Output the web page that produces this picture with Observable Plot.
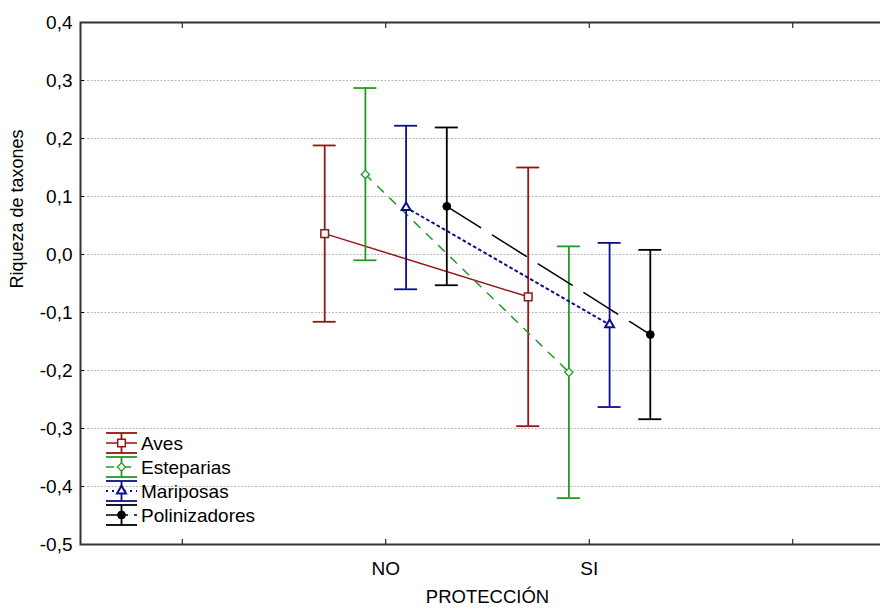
<!DOCTYPE html>
<html>
<head>
<meta charset="utf-8">
<script src="https://cdn.jsdelivr.net/npm/d3@7"></script>
<script src="https://cdn.jsdelivr.net/npm/@observablehq/plot@0.6"></script>
<style>
  html, body { margin: 0; padding: 0; background: #fff; overflow: hidden; }
  #chart { width: 880px; height: 608px; overflow: hidden; }
  #chart svg { max-width: none !important; }
</style>
</head>
<body>
<div id="chart"></div>
<script>
// Taxon groups and protection levels
const groups = ["Aves", "Esteparias", "Mariposas", "Polinizadores"];
const levels = ["NO", "SI"];

// Means and interval limits per group, unprotected (NO) and protected (SI)
const meanNO = [0.036, 0.138, 0.081, 0.083];
const lowNO  = [-0.116, -0.010, -0.060, -0.053];
const highNO = [0.188, 0.287, 0.222, 0.219];
const meanSI = [-0.073, -0.203, -0.121, -0.138];
const lowSI  = [-0.296, -0.420, -0.263, -0.284];
const highSI = [0.150, 0.014, 0.020, 0.008];

// Axis ticks
const xTickLabels = ["", "NO", "SI", ""];
const yTicks = [-0.5, -0.4, -0.3, -0.2, -0.1, 0.0, 0.1, 0.2, 0.3, 0.4];

// Appearance of each group
const look = {
  Aves:          {color: "#961515", dash: null,    symbol: "square",   r: 4.3, fill: "white", sw: 1.5},
  Esteparias:    {color: "#239a23", dash: "8,9",   symbol: "diamond2", r: 3.7, fill: "white", sw: 1.3},
  Mariposas:     {color: "#0d0d8c", dash: "2,4",   symbol: "triangle", r: 3.3, fill: "white", sw: 2},
  Polinizadores: {color: "#000000", dash: "40,14", symbol: "circle",   r: 3.9, fill: "black", sw: 1}
};
const lineWidth = {Aves: 1.5, Esteparias: 1.5, Mariposas: 2, Polinizadores: 1.5};

// Rows: one per group and level, dodged horizontally around the level position
const rows = [];
groups.forEach((g, i) => {
  const off = (i - 1.5) * 0.2;
  rows.push({group: g, level: "NO", pos: 1 + off, mean: meanNO[i], lo: lowNO[i], hi: highNO[i]});
  rows.push({group: g, level: "SI", pos: 2 + off, mean: meanSI[i], lo: lowSI[i], hi: highSI[i]});
});

const capHalf = 0.0565;
const fmt = d => d.toFixed(1).replace(".", ",");
const gridValues = yTicks.slice(1, -1);

const groupMarks = groups.flatMap(g => {
  const s = look[g];
  const data = rows.filter(d => d.group === g);
  return [
    Plot.line(data, {x: "pos", y: "mean", stroke: s.color, strokeWidth: lineWidth[g], strokeDasharray: s.dash}),
    Plot.ruleX(data, {x: "pos", y1: "lo", y2: "hi", stroke: s.color, strokeWidth: 1.8}),
    Plot.ruleY(data, {y: "hi", x1: d => d.pos - capHalf, x2: d => d.pos + capHalf, stroke: s.color, strokeWidth: 1.8}),
    Plot.ruleY(data, {y: "lo", x1: d => d.pos - capHalf, x2: d => d.pos + capHalf, stroke: s.color, strokeWidth: 1.8}),
    Plot.dot(data, {x: "pos", y: "mean", symbol: s.symbol, r: s.r, stroke: s.color, fill: s.fill, strokeWidth: s.sw})
  ];
});

const svg = Plot.plot({
  width: 894,
  height: 608,
  marginLeft: 80,
  marginRight: 0,
  marginTop: 22,
  marginBottom: 64,
  style: {fontFamily: "'Liberation Sans', Arial, sans-serif", fontSize: "19px", color: "#000", background: "#fff"},
  x: {domain: [-0.5, 3.5]},
  y: {domain: [-0.5, 0.4]},
  marks: [
    Plot.gridY(gridValues, {stroke: "#b8b8b8", strokeOpacity: 1, strokeDasharray: "2,1.5"}),
    ...groupMarks,
    Plot.axisX([0, 1, 2, 3], {anchor: "bottom", tickSize: -5, tickFormat: () => "", label: null}),
    Plot.axisX([0, 1, 2, 3], {anchor: "top", tickSize: -5, tickFormat: () => "", label: null}),
    Plot.axisX([1, 2], {anchor: "bottom", tickSize: 0, tickPadding: 17, tickFormat: d => xTickLabels[d], label: null}),
    Plot.axisY(gridValues, {anchor: "left", tickSize: -4, tickFormat: () => "", label: null}),
    Plot.axisY(yTicks, {anchor: "left", tickSize: 0, tickPadding: 8, tickFormat: fmt, label: null}),
    Plot.frame({stroke: "#333", strokeWidth: 2}),
    Plot.text(["Riqueza de taxones"], {frameAnchor: "left", rotate: -90, dx: -63, dy: 5, fontSize: 18}),
    Plot.text(["PROTECCIÓN"], {frameAnchor: "bottom", dy: 58, fontSize: 18.5})
  ]
});
svg.style.maxWidth = "none";
svg.style.width = "894px";
svg.style.height = "608px";

// Legend: interval caps, connecting-line style and marker for each group
const legend = d3.select(svg).append("g").attr("class", "legend").attr("text-anchor", "start");
const symbolTypes = {square: d3.symbolSquare, diamond2: d3.symbolDiamond2, triangle: d3.symbolTriangle, circle: d3.symbolCircle};
groups.forEach((g, i) => {
  const s = look[g];
  const cy = 443 + i * 24;
  const x0 = 106, x1 = 137, cx = (x0 + x1) / 2;
  const row = legend.append("g");
  row.append("line").attr("x1", x0).attr("x2", x1).attr("y1", cy - 10).attr("y2", cy - 10)
    .attr("stroke", s.color).attr("stroke-width", 1.8);
  row.append("line").attr("x1", x0).attr("x2", x1).attr("y1", cy + 10).attr("y2", cy + 10)
    .attr("stroke", s.color).attr("stroke-width", 1.8);
  row.append("line").attr("x1", cx).attr("x2", cx).attr("y1", cy - 10).attr("y2", cy + 10)
    .attr("stroke", s.color).attr("stroke-width", 1.8);
  row.append("line").attr("x1", x0).attr("x2", x1).attr("y1", cy).attr("y2", cy)
    .attr("stroke", s.color).attr("stroke-width", lineWidth[g])
    .attr("stroke-dasharray", g === "Polinizadores" ? "22,6" : s.dash);
  row.append("path")
    .attr("d", d3.symbol(symbolTypes[s.symbol], Math.PI * s.r * s.r)())
    .attr("transform", `translate(${cx},${cy})`)
    .attr("fill", s.fill).attr("stroke", s.color).attr("stroke-width", s.sw);
  row.append("text").attr("x", 141).attr("y", cy).attr("dy", "0.35em")
    .attr("font-size", 19).attr("fill", "#000").attr("text-anchor", "start").text(g);
});

document.getElementById("chart").appendChild(svg);
</script>
</body>
</html>
